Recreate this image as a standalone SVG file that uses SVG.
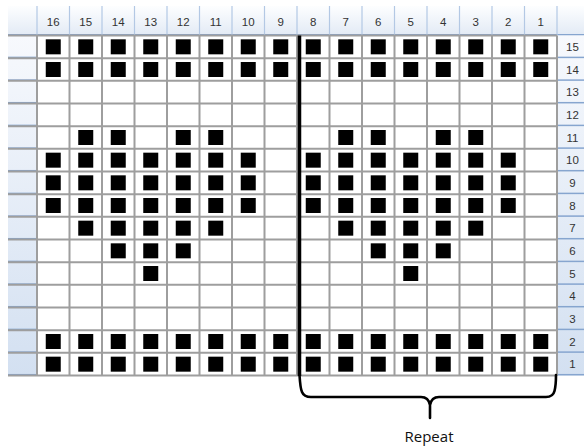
<svg xmlns="http://www.w3.org/2000/svg" xmlns:xlink="http://www.w3.org/1999/xlink" width="584" height="448" viewBox="0 0 584 448">
<style>
.hdr{fill:url(#hg)}
.side{fill:url(#sg)}
.num{font-family:"Liberation Sans",Arial,sans-serif;font-size:11.5px;fill:#333;text-anchor:middle}
.grid{stroke:#9e9e9e;stroke-width:2;fill:none}
.sep{stroke:#b3c8e4;stroke-width:1.2}
.sb{stroke:#86a5cf;stroke-width:1.5}
</style>
<defs>
<linearGradient id="hg" x1="0" y1="0" x2="0" y2="1">
<stop offset="0" stop-color="#fdfeff"/><stop offset="1" stop-color="#e2eaf5"/>
</linearGradient>
<linearGradient id="sg" x1="0" y1="0" x2="0" y2="1">
<stop offset="0" stop-color="#f7f9fd"/><stop offset="1" stop-color="#d3e0f1"/>
</linearGradient>
<rect id="s" width="15" height="15" fill="#000"/>
<g id="full">
<use xlink:href="#s" x="45.75"/><use xlink:href="#s" x="78.25"/><use xlink:href="#s" x="110.75"/><use xlink:href="#s" x="143.25"/>
<use xlink:href="#s" x="175.75"/><use xlink:href="#s" x="208.25"/><use xlink:href="#s" x="240.75"/><use xlink:href="#s" x="273.25"/>
<use xlink:href="#s" x="305.75"/><use xlink:href="#s" x="338.25"/><use xlink:href="#s" x="370.75"/><use xlink:href="#s" x="403.25"/>
<use xlink:href="#s" x="435.75"/><use xlink:href="#s" x="468.25"/><use xlink:href="#s" x="500.75"/><use xlink:href="#s" x="533.25"/>
</g>
<g id="r10">
<use xlink:href="#s" x="45.75"/><use xlink:href="#s" x="78.25"/><use xlink:href="#s" x="110.75"/><use xlink:href="#s" x="143.25"/>
<use xlink:href="#s" x="175.75"/><use xlink:href="#s" x="208.25"/><use xlink:href="#s" x="240.75"/>
<use xlink:href="#s" x="305.75"/><use xlink:href="#s" x="338.25"/><use xlink:href="#s" x="370.75"/><use xlink:href="#s" x="403.25"/>
<use xlink:href="#s" x="435.75"/><use xlink:href="#s" x="468.25"/><use xlink:href="#s" x="500.75"/>
</g>
</defs>
<rect width="584" height="448" fill="#fff"/>

<!-- header row -->
<g id="header">
<rect class="hdr" x="8" y="6" width="576" height="29.5"/>
<line class="sb" x1="8" y1="34.75" x2="584" y2="34.75"/>
<g class="sep">
<line x1="37" y1="6" x2="37" y2="35"/><line x1="69.5" y1="6" x2="69.5" y2="35"/><line x1="102" y1="6" x2="102" y2="35"/><line x1="134.5" y1="6" x2="134.5" y2="35"/>
<line x1="167" y1="6" x2="167" y2="35"/><line x1="199.5" y1="6" x2="199.5" y2="35"/><line x1="232" y1="6" x2="232" y2="35"/><line x1="264.5" y1="6" x2="264.5" y2="35"/>
<line x1="297" y1="6" x2="297" y2="35"/><line x1="329.5" y1="6" x2="329.5" y2="35"/><line x1="362" y1="6" x2="362" y2="35"/><line x1="394.5" y1="6" x2="394.5" y2="35"/>
<line x1="427" y1="6" x2="427" y2="35"/><line x1="459.5" y1="6" x2="459.5" y2="35"/><line x1="492" y1="6" x2="492" y2="35"/><line x1="524.5" y1="6" x2="524.5" y2="35"/>
<line x1="557" y1="6" x2="557" y2="35"/>
</g>
<g class="num">
<text x="53.25" y="26">16</text><text x="85.75" y="26">15</text><text x="118.25" y="26">14</text><text x="150.75" y="26">13</text>
<text x="183.25" y="26">12</text><text x="215.75" y="26">11</text><text x="248.25" y="26">10</text><text x="280.75" y="26">9</text>
<text x="313.25" y="26">8</text><text x="345.75" y="26">7</text><text x="378.25" y="26">6</text><text x="410.75" y="26">5</text>
<text x="443.25" y="26">4</text><text x="475.75" y="26">3</text><text x="508.25" y="26">2</text><text x="540.75" y="26">1</text>
</g>
</g>

<!-- left row headers -->
<g id="left-headers">
<rect class="side" x="8" y="35.5" width="29" height="340"/>
<g class="sb">
<line x1="8" y1="57.4" x2="37" y2="57.4"/><line x1="8" y1="80.1" x2="37" y2="80.1"/><line x1="8" y1="102.7" x2="37" y2="102.7"/>
<line x1="8" y1="125.4" x2="37" y2="125.4"/><line x1="8" y1="148.1" x2="37" y2="148.1"/><line x1="8" y1="170.7" x2="37" y2="170.7"/>
<line x1="8" y1="193.4" x2="37" y2="193.4"/><line x1="8" y1="216.1" x2="37" y2="216.1"/><line x1="8" y1="238.7" x2="37" y2="238.7"/>
<line x1="8" y1="261.4" x2="37" y2="261.4"/><line x1="8" y1="284.1" x2="37" y2="284.1"/><line x1="8" y1="306.7" x2="37" y2="306.7"/>
<line x1="8" y1="329.4" x2="37" y2="329.4"/><line x1="8" y1="352.1" x2="37" y2="352.1"/><line x1="8" y1="374.7" x2="37" y2="374.7"/>
</g>
</g>

<!-- right row headers -->
<g id="right-headers">
<rect class="side" x="557" y="35.5" width="27" height="340"/>
<g class="sb">
<line x1="557" y1="57.4" x2="584" y2="57.4"/><line x1="557" y1="80.1" x2="584" y2="80.1"/><line x1="557" y1="102.7" x2="584" y2="102.7"/>
<line x1="557" y1="125.4" x2="584" y2="125.4"/><line x1="557" y1="148.1" x2="584" y2="148.1"/><line x1="557" y1="170.7" x2="584" y2="170.7"/>
<line x1="557" y1="193.4" x2="584" y2="193.4"/><line x1="557" y1="216.1" x2="584" y2="216.1"/><line x1="557" y1="238.7" x2="584" y2="238.7"/>
<line x1="557" y1="261.4" x2="584" y2="261.4"/><line x1="557" y1="284.1" x2="584" y2="284.1"/><line x1="557" y1="306.7" x2="584" y2="306.7"/>
<line x1="557" y1="329.4" x2="584" y2="329.4"/><line x1="557" y1="352.1" x2="584" y2="352.1"/><line x1="557" y1="374.7" x2="584" y2="374.7"/>
</g>
<g class="num">
<text x="572.5" y="51">15</text><text x="572.5" y="73.7">14</text><text x="572.5" y="96.4">13</text><text x="572.5" y="119">12</text>
<text x="572.5" y="141.7">11</text><text x="572.5" y="164.4">10</text><text x="572.5" y="187">9</text><text x="572.5" y="209.7">8</text>
<text x="572.5" y="232.4">7</text><text x="572.5" y="255">6</text><text x="572.5" y="277.7">5</text><text x="572.5" y="300.4">4</text>
<text x="572.5" y="323">3</text><text x="572.5" y="345.7">2</text><text x="572.5" y="368.4">1</text>
</g>
</g>

<!-- grid -->
<g id="grid">
<rect x="37" y="35.5" width="520" height="340" fill="#fff"/>
<path class="grid" d="M37 35.5V375.5M69.5 35.5V375.5M102 35.5V375.5M134.5 35.5V375.5M167 35.5V375.5M199.5 35.5V375.5M232 35.5V375.5M264.5 35.5V375.5M297 35.5V375.5M329.5 35.5V375.5M362 35.5V375.5M394.5 35.5V375.5M427 35.5V375.5M459.5 35.5V375.5M492 35.5V375.5M524.5 35.5V375.5M557 35.5V375.5
M8 35.5H557M8 58.2H557M8 80.8H557M8 103.5H557M8 126.2H557M8 148.8H557M8 171.5H557M8 194.2H557M8 216.8H557M8 239.5H557M8 262.2H557M8 284.8H557M8 307.5H557M8 330.2H557M8 352.8H557M8 375.5H557"/>
</g>

<!-- filled stitches -->
<g id="stitches">
<use xlink:href="#full" y="39.33"/>
<use xlink:href="#full" y="62"/>
<g transform="translate(0,130)">
<use xlink:href="#s" x="78.25"/><use xlink:href="#s" x="110.75"/><use xlink:href="#s" x="175.75"/><use xlink:href="#s" x="208.25"/>
<use xlink:href="#s" x="338.25"/><use xlink:href="#s" x="370.75"/><use xlink:href="#s" x="435.75"/><use xlink:href="#s" x="468.25"/>
</g>
<use xlink:href="#r10" y="152.67"/>
<use xlink:href="#r10" y="175.33"/>
<use xlink:href="#r10" y="198"/>
<g transform="translate(0,220.67)">
<use xlink:href="#s" x="78.25"/><use xlink:href="#s" x="110.75"/><use xlink:href="#s" x="143.25"/><use xlink:href="#s" x="175.75"/><use xlink:href="#s" x="208.25"/>
<use xlink:href="#s" x="338.25"/><use xlink:href="#s" x="370.75"/><use xlink:href="#s" x="403.25"/><use xlink:href="#s" x="435.75"/><use xlink:href="#s" x="468.25"/>
</g>
<g transform="translate(0,243.33)">
<use xlink:href="#s" x="110.75"/><use xlink:href="#s" x="143.25"/><use xlink:href="#s" x="175.75"/>
<use xlink:href="#s" x="370.75"/><use xlink:href="#s" x="403.25"/><use xlink:href="#s" x="435.75"/>
</g>
<g transform="translate(0,266)">
<use xlink:href="#s" x="143.25"/><use xlink:href="#s" x="403.25"/>
</g>
<use xlink:href="#full" y="334"/>
<use xlink:href="#full" y="356.67"/>
</g>

<!-- repeat divider and brace -->
<g id="connectors" fill="none" stroke="#000" stroke-linecap="round">
<line x1="299.5" y1="35.5" x2="299.5" y2="376" stroke-width="3.5" stroke-linecap="butt"/>
<path stroke-width="2.6" d="M299.5 375 C300 383 300.5 389 302 392 Q304 397 311 397 L421 397 Q428.5 397 430 405 L430 418 M430 405 Q431.5 397 439 397 L546 397 Q553 397 554.5 391 Q556 385 556 375"/>
</g>
<text id="repeat" x="429" y="442" font-family="'Open Sans','Liberation Sans',sans-serif" font-size="15" fill="#111" text-anchor="middle">Repeat</text>
</svg>
